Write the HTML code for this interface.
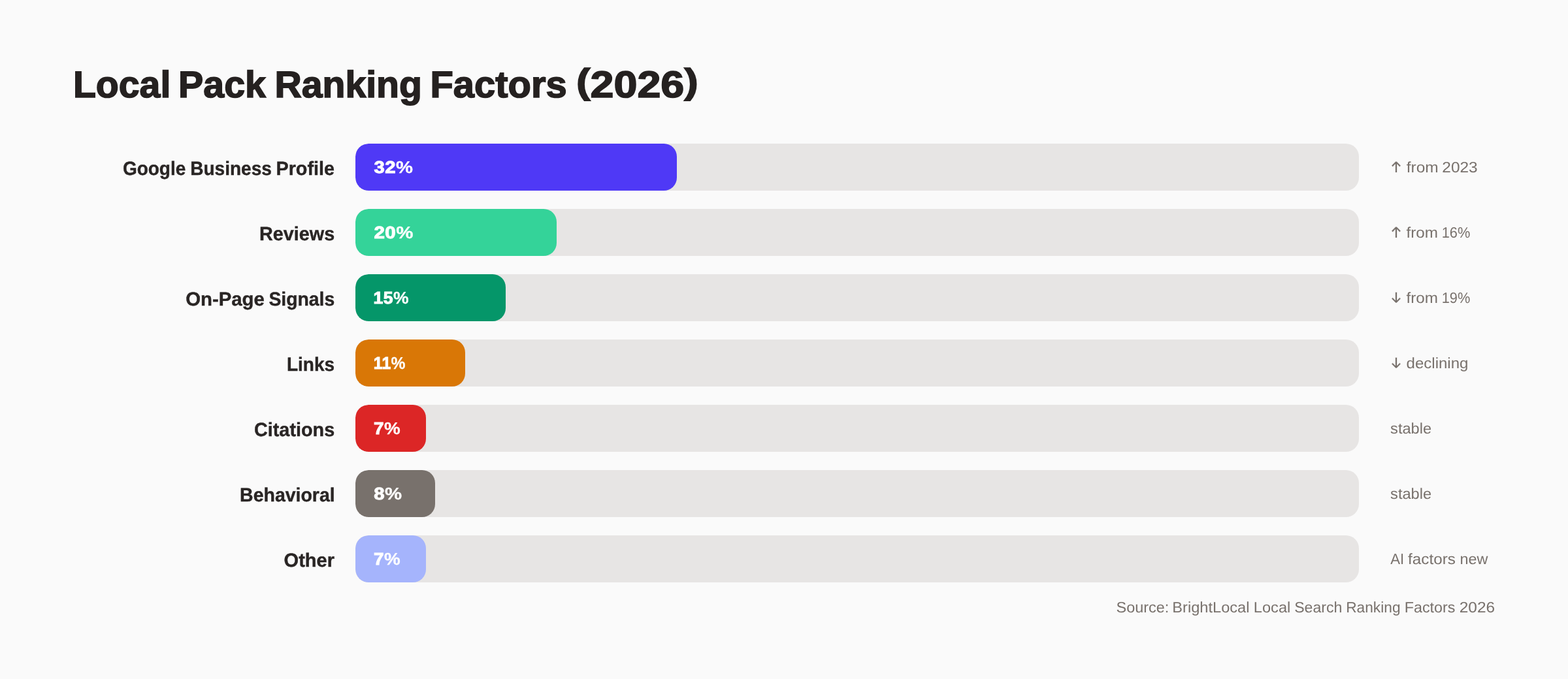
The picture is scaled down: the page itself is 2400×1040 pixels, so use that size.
<!DOCTYPE html>
<html lang="en">
<head>
<meta charset="utf-8">
<title>Local Pack Ranking Factors (2026)</title>
<style>
html,body{margin:0;padding:0}
body{width:2400px;height:1040px;background:#fafafa;position:relative;overflow:hidden;font-family:"Liberation Sans",sans-serif;color:#292524;text-rendering:geometricPrecision}
h1,.lab,.val,.note,.ar,.src,h1 span,.src span{position:absolute;margin:0;white-space:nowrap;line-height:1;transform-origin:0 50%}
h1{left:0;top:101.56px;width:2400px;height:57.1px;font-size:57.1px;font-weight:700;color:#252120;-webkit-text-stroke:1.6px #252120;paint-order:stroke fill}
h1 span,.src span{top:0}
h1 b{display:inline-block;font-weight:700;transform:translateY(-4.8px) scaleY(0.945)}
.row{position:absolute;left:0;width:2400px;height:72px}
.lab{top:24.01px;font-size:29.4px;font-weight:700;color:#292524;-webkit-text-stroke:0.4px #292524;paint-order:stroke fill}
.track{position:absolute;left:544px;top:0;width:1536px;height:72px;border-radius:20px;background:#e7e5e4;overflow:hidden}
.fill{position:absolute;left:0;top:0;height:72px;border-radius:20px}
.val{top:23.39px;font-size:26.0px;font-weight:700;color:#fff;-webkit-text-stroke:1.0px #fff;paint-order:stroke fill}
.val i{font-style:normal;-webkit-text-stroke:0.3px #fff}
.note{top:24.53px;font-size:23.0px;color:#78716c}
.ar{font-family:"DejaVu Sans",sans-serif;font-size:34.0px;color:#78716c;-webkit-text-stroke:0.6px #fafafa;left:2122px;padding-left:0.73px}
.up{top:23.57px;clip-path:inset(0 0 13.67px 0)}
.dn{top:16.38px;clip-path:inset(11.32px 0 0 0)}
@media (max-width:1600px){html{zoom:.5}}
.src{left:0;top:918.53px;width:2400px;height:23.0px;font-size:23.0px;color:#78716c}
</style>
</head>
<body>
<h1><span style="left:111px;padding-left:0.9px;transform:scaleX(1.0021)">Local</span> <span style="left:273px;padding-left:0.1px;transform:scaleX(1.003)">Pack</span> <span style="left:420px;padding-left:0.5px;transform:scaleX(1.0007)">Ranking</span> <span style="left:658px;padding-left:0.5px;transform:scaleX(1.0139)">Factors</span> <span style="left:881px;padding-left:0.8px;transform:scaleX(1.1329)"><b>(</b>2026<b>)</b></span></h1>
<div class="row" style="top:220px">
  <span class="lab" style="left:187px;padding-left:0.95px;transform:scaleX(0.952)">Google</span> <span class="lab" style="left:291px;padding-left:0.2px;transform:scaleX(0.9545)">Business</span> <span class="lab" style="left:422px;padding-left:0.5px;transform:scaleX(0.978)">Profile</span>
  <div class="track"><div class="fill" style="width:492px;background:#4f39f6"></div></div>
  <div class="val" style="left:572px;padding-left:0.56px;letter-spacing:0.4px;transform:scaleX(1.1242)">32<i>%</i></div>
  <span class="ar up">↑</span> <span class="note" style="left:2152px;padding-left:0.7px;transform:scaleX(1.0631)">from</span> <span class="note" style="left:2207px;padding-left:0.35px;transform:scaleX(1.0615)">2023</span>
</div>
<div class="row" style="top:320px">
  <span class="lab" style="left:397px;padding-left:0.1px;transform:scaleX(0.9784)">Reviews</span>
  <div class="track"><div class="fill" style="width:308px;background:#34d399"></div></div>
  <div class="val" style="left:572px;padding-left:0.38px;letter-spacing:0.4px;transform:scaleX(1.1351)">20<i>%</i></div>
  <span class="ar up">↑</span> <span class="note" style="left:2152px;padding-left:0.5px;transform:scaleX(1.0542)">from</span> <span class="note" style="left:2206px;padding-left:0.8px;transform:scaleX(0.9473)">16%</span>
</div>
<div class="row" style="top:420px">
  <span class="lab" style="left:284px;padding-left:0.2px;transform:scaleX(0.9986)">On-Page</span> <span class="lab" style="left:411px;padding-left:0.4px;transform:scaleX(0.9649)">Signals</span>
  <div class="track"><div class="fill" style="width:230px;background:#059669"></div></div>
  <div class="val" style="left:571px;padding-left:0.6px;letter-spacing:0.4px;transform:scaleX(1.0201)">15<i>%</i></div>
  <span class="ar dn">↓</span> <span class="note" style="left:2152px;padding-left:0.5px;transform:scaleX(1.0542)">from</span> <span class="note" style="left:2206px;padding-left:0.8px;transform:scaleX(0.9473)">19%</span>
</div>
<div class="row" style="top:520px">
  <span class="lab" style="left:439px;transform:scaleX(0.9519)">Links</span>
  <div class="track"><div class="fill" style="width:168px;background:#d97706"></div></div>
  <div class="val" style="left:571px;padding-left:0.79px;letter-spacing:0.4px;transform:scaleX(0.9489)">11<i>%</i></div>
  <span class="ar dn">↓</span> <span class="note" style="left:2152px;padding-left:0.5px;transform:scaleX(1.0453)">declining</span>
</div>
<div class="row" style="top:620px">
  <span class="lab" style="left:389px;transform:scaleX(0.9794)">Citations</span>
  <div class="track"><div class="fill" style="width:108px;background:#dc2626"></div></div>
  <div class="val" style="left:572px;padding-left:0.1px;letter-spacing:0.4px;transform:scaleX(1.0705)">7<i>%</i></div>
  <span class="note" style="left:2128px;padding-left:0.1px;transform:scaleX(1.0269)">stable</span>
</div>
<div class="row" style="top:720px">
  <span class="lab" style="left:367px;padding-left:0.1px;transform:scaleX(0.9689)">Behavioral</span>
  <div class="track"><div class="fill" style="width:122px;background:#78716c"></div></div>
  <div class="val" style="left:572px;padding-left:0.14px;letter-spacing:0.4px;transform:scaleX(1.1289)">8<i>%</i></div>
  <span class="note" style="left:2128px;padding-left:0.1px;transform:scaleX(1.0269)">stable</span>
</div>
<div class="row" style="top:820px">
  <span class="lab" style="left:434px;padding-left:0.6px;transform:scaleX(0.9885)">Other</span>
  <div class="track"><div class="fill" style="width:108px;background:#a5b4fc"></div></div>
  <div class="val" style="left:572px;padding-left:0.02px;letter-spacing:0.4px;transform:scaleX(1.0692)">7<i>%</i></div>
  <span class="note" style="left:2128px;padding-left:0.3px;transform:scaleX(0.9642)">AI</span> <span class="note" style="left:2155px;padding-left:0.1px;transform:scaleX(1.0545)">factors</span> <span class="note" style="left:2234px;padding-left:0.4px;transform:scaleX(1.0174)">new</span>
</div>
<div class="src"><span style="left:1708px;padding-left:0.5px;transform:scaleX(1.0198)">Source:</span> <span style="left:1794px;padding-left:0.3px;transform:scaleX(1.0269)">BrightLocal</span> <span style="left:1918px;padding-left:0.8px;transform:scaleX(1.0273)">Local</span> <span style="left:1981px;padding-left:0.2px;transform:scaleX(1.0057)">Search</span> <span style="left:2060px;padding-left:0.2px;transform:scaleX(0.9876)">Ranking</span> <span style="left:2149px;padding-left:0.7px;transform:scaleX(1.0135)">Factors</span> <span style="left:2233px;padding-left:0.7px;transform:scaleX(1.0635)">2026</span></div>
</body>
</html>
